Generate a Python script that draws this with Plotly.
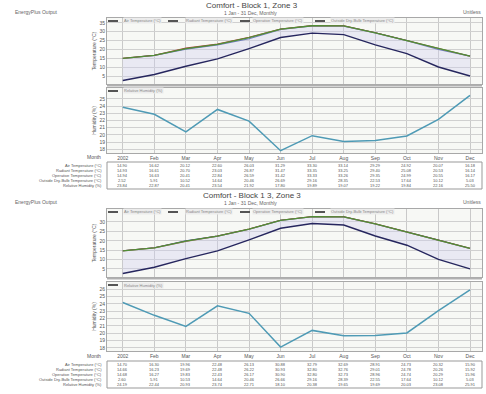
import plotly.graph_objects as go

months = ["2002", "Feb", "Mar", "Apr", "May", "Jun", "Jul", "Aug", "Sep", "Oct", "Nov", "Dec"]

# Panel 1: Block 1, Zone 3
p1_air = [14.90, 16.62, 20.12, 22.60, 26.03, 31.29, 33.30, 33.14, 29.29, 24.92, 20.07, 16.18]
p1_rad = [14.93, 16.61, 20.70, 23.03, 26.87, 31.47, 33.35, 33.25, 29.40, 25.08, 20.53, 16.14]
p1_op = [14.94, 16.63, 20.41, 22.84, 26.59, 31.42, 33.33, 33.26, 29.35, 24.99, 20.55, 16.17]
p1_out = [2.52, 5.91, 10.52, 14.64, 20.46, 26.69, 29.16, 28.35, 22.53, 17.64, 10.12, 5.03]
p1_rh = [23.84, 22.87, 20.41, 23.54, 21.92, 17.80, 19.89, 19.07, 19.22, 19.84, 22.16, 25.50]

# Panel 2: Block 1 3, Zone 3
p2_air = [14.70, 16.30, 19.96, 22.48, 26.13, 30.88, 32.79, 32.69, 28.91, 24.73, 20.32, 15.90]
p2_rad = [14.66, 16.23, 19.69, 22.48, 26.22, 30.93, 32.80, 32.76, 29.01, 24.78, 20.26, 15.92]
p2_op = [14.68, 16.27, 19.83, 22.43, 26.17, 30.90, 32.80, 32.73, 28.96, 24.74, 20.29, 15.96]
p2_out = [2.60, 5.91, 10.53, 14.64, 20.46, 26.66, 29.16, 28.39, 22.55, 17.64, 10.12, 5.03]
p2_rh = [24.19, 22.44, 20.93, 23.74, 22.71, 18.10, 20.38, 19.65, 19.69, 20.03, 23.08, 25.91]

row_labels = ["Air Temperature (°C)", "Radiant Temperature (°C)", "Operative Temperature (°C)",
              "Outside Dry-Bulb Temperature (°C)", "Relative Humidity (%)"]
temp_legend = ["Air Temperature (°C)", "Radiant Temperature (°C)",
               "Operative Temperature (°C)", "Outside Dry-Bulb Temperature (°C)"]

titles = ["Comfort - Block 1, Zone 3", "Comfort - Block 1 3, Zone 3"]

W, H = 486, 394
FONT = "Liberation Sans, Arial, sans-serif"
TXT = "#555555"

def py(px):
    return 1 - px / H

def px_x(px):
    return px / W

fig = go.Figure()

X0, X1 = 107, 482
XDOM = [px_x(X0), px_x(X1)]
XRANGE = [-0.5, 11.38]

panels = [
    dict(air=p1_air, rad=p1_rad, op=p1_op, out=p1_out, rh=p1_rh,
         t=(18, 84), t_rng=[0.53, 37.7], t_ticks=[5, 10, 15, 20, 25, 30, 35],
         r=(88, 153), r_rng=[17.48, 26.52], r_ticks=[18, 19, 20, 21, 22, 23, 24, 25],
         head=0, tbl=(162, 189), rows=[165.5, 170.5, 175.5, 180.5, 185.5], month_y=157),
    dict(air=p2_air, rad=p2_rad, op=p2_op, out=p2_out, rh=p2_rh,
         t=(209, 277), t_rng=[0.74, 36.9], t_ticks=[5, 10, 15, 20, 25, 30],
         r=(282, 351), r_rng=[17.56, 27.0], r_ticks=[18, 19, 20, 21, 22, 23, 24, 25, 26],
         head=190, tbl=(361, 388), rows=[364.5, 369.5, 374.5, 379.5, 384.5], month_y=356),
]

shapes = []
annots = []
layout_axes = {}
TF = 4

for i, p in enumerate(panels):
    ta = 2 * i + 1
    ra = 2 * i + 2
    tx = "x" if ta == 1 else f"x{ta}"
    ty = "y" if ta == 1 else f"y{ta}"
    rx = f"x{ra}"
    ryy = f"y{ra}"

    fig.add_trace(go.Scatter(x=months, y=p["air"], mode="lines", line=dict(color="#3a4fa0", width=1.2),
                             xaxis=tx, yaxis=ty, showlegend=False))
    fig.add_trace(go.Scatter(x=months, y=p["rad"], mode="lines", line=dict(color="#b04040", width=1.2),
                             xaxis=tx, yaxis=ty, showlegend=False))
    fig.add_trace(go.Scatter(x=months, y=p["op"], mode="lines", line=dict(color="#4f8f36", width=1.3),
                             xaxis=tx, yaxis=ty, showlegend=False))
    fig.add_trace(go.Scatter(x=months, y=p["out"], mode="lines", line=dict(color="#26265e", width=1.4),
                             fill="tonexty", fillcolor="rgba(205,205,240,0.35)",
                             xaxis=tx, yaxis=ty, showlegend=False))
    fig.add_trace(go.Scatter(x=months, y=p["rh"], mode="lines", line=dict(color="#4e9ab5", width=1.5),
                             xaxis=rx, yaxis=ryy, showlegend=False))

    common_x = dict(domain=XDOM, range=XRANGE, type="category", showgrid=True, gridcolor="#c9c9c9",
                    gridwidth=1, zeroline=False, showline=True, linecolor="#a8a8a8", mirror=True,
                    ticks="", fixedrange=True, automargin=False)
    layout_axes["xaxis" if ta == 1 else f"xaxis{ta}"] = dict(common_x, anchor=ty, showticklabels=False)
    layout_axes[f"xaxis{ra}"] = dict(common_x, anchor=ryy, showticklabels=True,
                                     tickfont=dict(size=5, color=TXT, family=FONT), ticklen=0)
    layout_axes["yaxis" if ta == 1 else f"yaxis{ta}"] = dict(
        domain=[py(p["t"][1]), py(p["t"][0])], range=p["t_rng"], anchor=tx, automargin=False,
        tickvals=p["t_ticks"], tickfont=dict(size=5, color=TXT, family=FONT), fixedrange=True,
        showgrid=True, gridcolor="#d0d0d0", zeroline=False, showline=True, linecolor="#a8a8a8",
        mirror=True, ticks="", title=dict(text="Temperature (°C)", font=dict(size=5, color=TXT, family=FONT),
                                          standoff=2))
    layout_axes[f"yaxis{ra}"] = dict(
        domain=[py(p["r"][1]), py(p["r"][0])], range=p["r_rng"], anchor=rx, automargin=False,
        tickvals=p["r_ticks"], tickfont=dict(size=5, color=TXT, family=FONT), fixedrange=True,
        showgrid=True, gridcolor="#d0d0d0", zeroline=False, showline=True, linecolor="#a8a8a8",
        mirror=True, ticks="", title=dict(text="Humidity (%)", font=dict(size=5, color=TXT, family=FONT),
                                          standoff=2))

    # separator bar under temp plot
    shapes.append(dict(type="line", xref="paper", yref="paper", x0=px_x(X0), x1=px_x(X1),
                       y0=py(p["t"][1] + 1.5), y1=py(p["t"][1] + 1.5), line=dict(color="#b0b0b0", width=2)))

    # legend in temp plot
    leg_x = [(108, 123), (168, 185), (240, 252), (315, 330)]
    ly = p["t"][0] + 3
    for (sx, tx0), lab in zip(leg_x, temp_legend):
        shapes.append(dict(type="line", xref="paper", yref="paper", x0=px_x(sx), x1=px_x(sx + 10),
                           y0=py(ly), y1=py(ly), line=dict(color="#555555", width=2)))
        annots.append(dict(xref="paper", yref="paper", x=px_x(tx0), y=py(ly), text=lab, showarrow=False,
                           xanchor="left", yanchor="middle", font=dict(size=TF, color="#888888", family=FONT),
                           bgcolor="#ececec", borderpad=0))
    ly2 = p["r"][0] + 3
    shapes.append(dict(type="line", xref="paper", yref="paper", x0=px_x(108), x1=px_x(118),
                       y0=py(ly2), y1=py(ly2), line=dict(color="#555555", width=2)))
    annots.append(dict(xref="paper", yref="paper", x=px_x(123), y=py(ly2), text="Relative Humidity (%)",
                       showarrow=False, xanchor="left", yanchor="middle",
                       font=dict(size=TF, color="#888888", family=FONT), bgcolor="#ececec", borderpad=0))

    # header
    h = p["head"]
    annots.append(dict(xref="paper", yref="paper", x=px_x(13), y=py(h + 12), text="EnergyPlus Output",
                       showarrow=False, xanchor="left", yanchor="middle",
                       font=dict(size=5, color="#666666", family=FONT)))
    annots.append(dict(xref="paper", yref="paper", x=px_x(252), y=py(h + 5.5), text=titles[i],
                       showarrow=False, xanchor="center", yanchor="middle",
                       font=dict(size=8, color="#444444", family=FONT)))
    annots.append(dict(xref="paper", yref="paper", x=px_x(250), y=py(h + 13), text="1 Jan - 31 Dec, Monthly",
                       showarrow=False, xanchor="center", yanchor="middle",
                       font=dict(size=5, color="#666666", family=FONT)))
    annots.append(dict(xref="paper", yref="paper", x=px_x(483), y=py(h + 12), text="Unitless",
                       showarrow=False, xanchor="right", yanchor="middle",
                       font=dict(size=5, color="#666666", family=FONT)))

    # Month label
    annots.append(dict(xref="paper", yref="paper", x=px_x(103), y=py(p["month_y"]), text="Month",
                       showarrow=False, xanchor="right", yanchor="middle",
                       font=dict(size=5, color=TXT, family=FONT)))

    # table
    t0, t1 = p["tbl"]
    shapes.append(dict(type="rect", xref="paper", yref="paper", x0=px_x(X0), x1=px_x(X1),
                       y0=py(t1), y1=py(t0), line=dict(color="#999999", width=1), fillcolor="white"))
    series = [p["air"], p["rad"], p["op"], p["out"], p["rh"]]
    for ry, lab, vals in zip(p["rows"], row_labels, series):
        annots.append(dict(xref="paper", yref="paper", x=px_x(103), y=py(ry), text=lab, showarrow=False,
                           xanchor="right", yanchor="middle", borderpad=0,
                           font=dict(size=TF, color=TXT, family=FONT)))
        for j, v in enumerate(vals):
            annots.append(dict(xref=rx, yref="paper", x=j, y=py(ry), text=f"{v:.2f}", showarrow=False,
                               xanchor="center", yanchor="middle", borderpad=0,
                               font=dict(size=TF, color=TXT, family=FONT)))

fig.update_layout(
    width=W, height=H, margin=dict(l=0, r=0, t=0, b=0, autoexpand=False),
    paper_bgcolor="white", plot_bgcolor="#f7f8f5",
    showlegend=False, shapes=shapes, annotations=annots,
    font=dict(family=FONT, size=5, color=TXT),
    **layout_axes,
)

fig.write_html("out.html", config={"displayModeBar": False, "staticPlot": True},
               post_script="document.body.style.margin='0';document.body.style.padding='0';")
